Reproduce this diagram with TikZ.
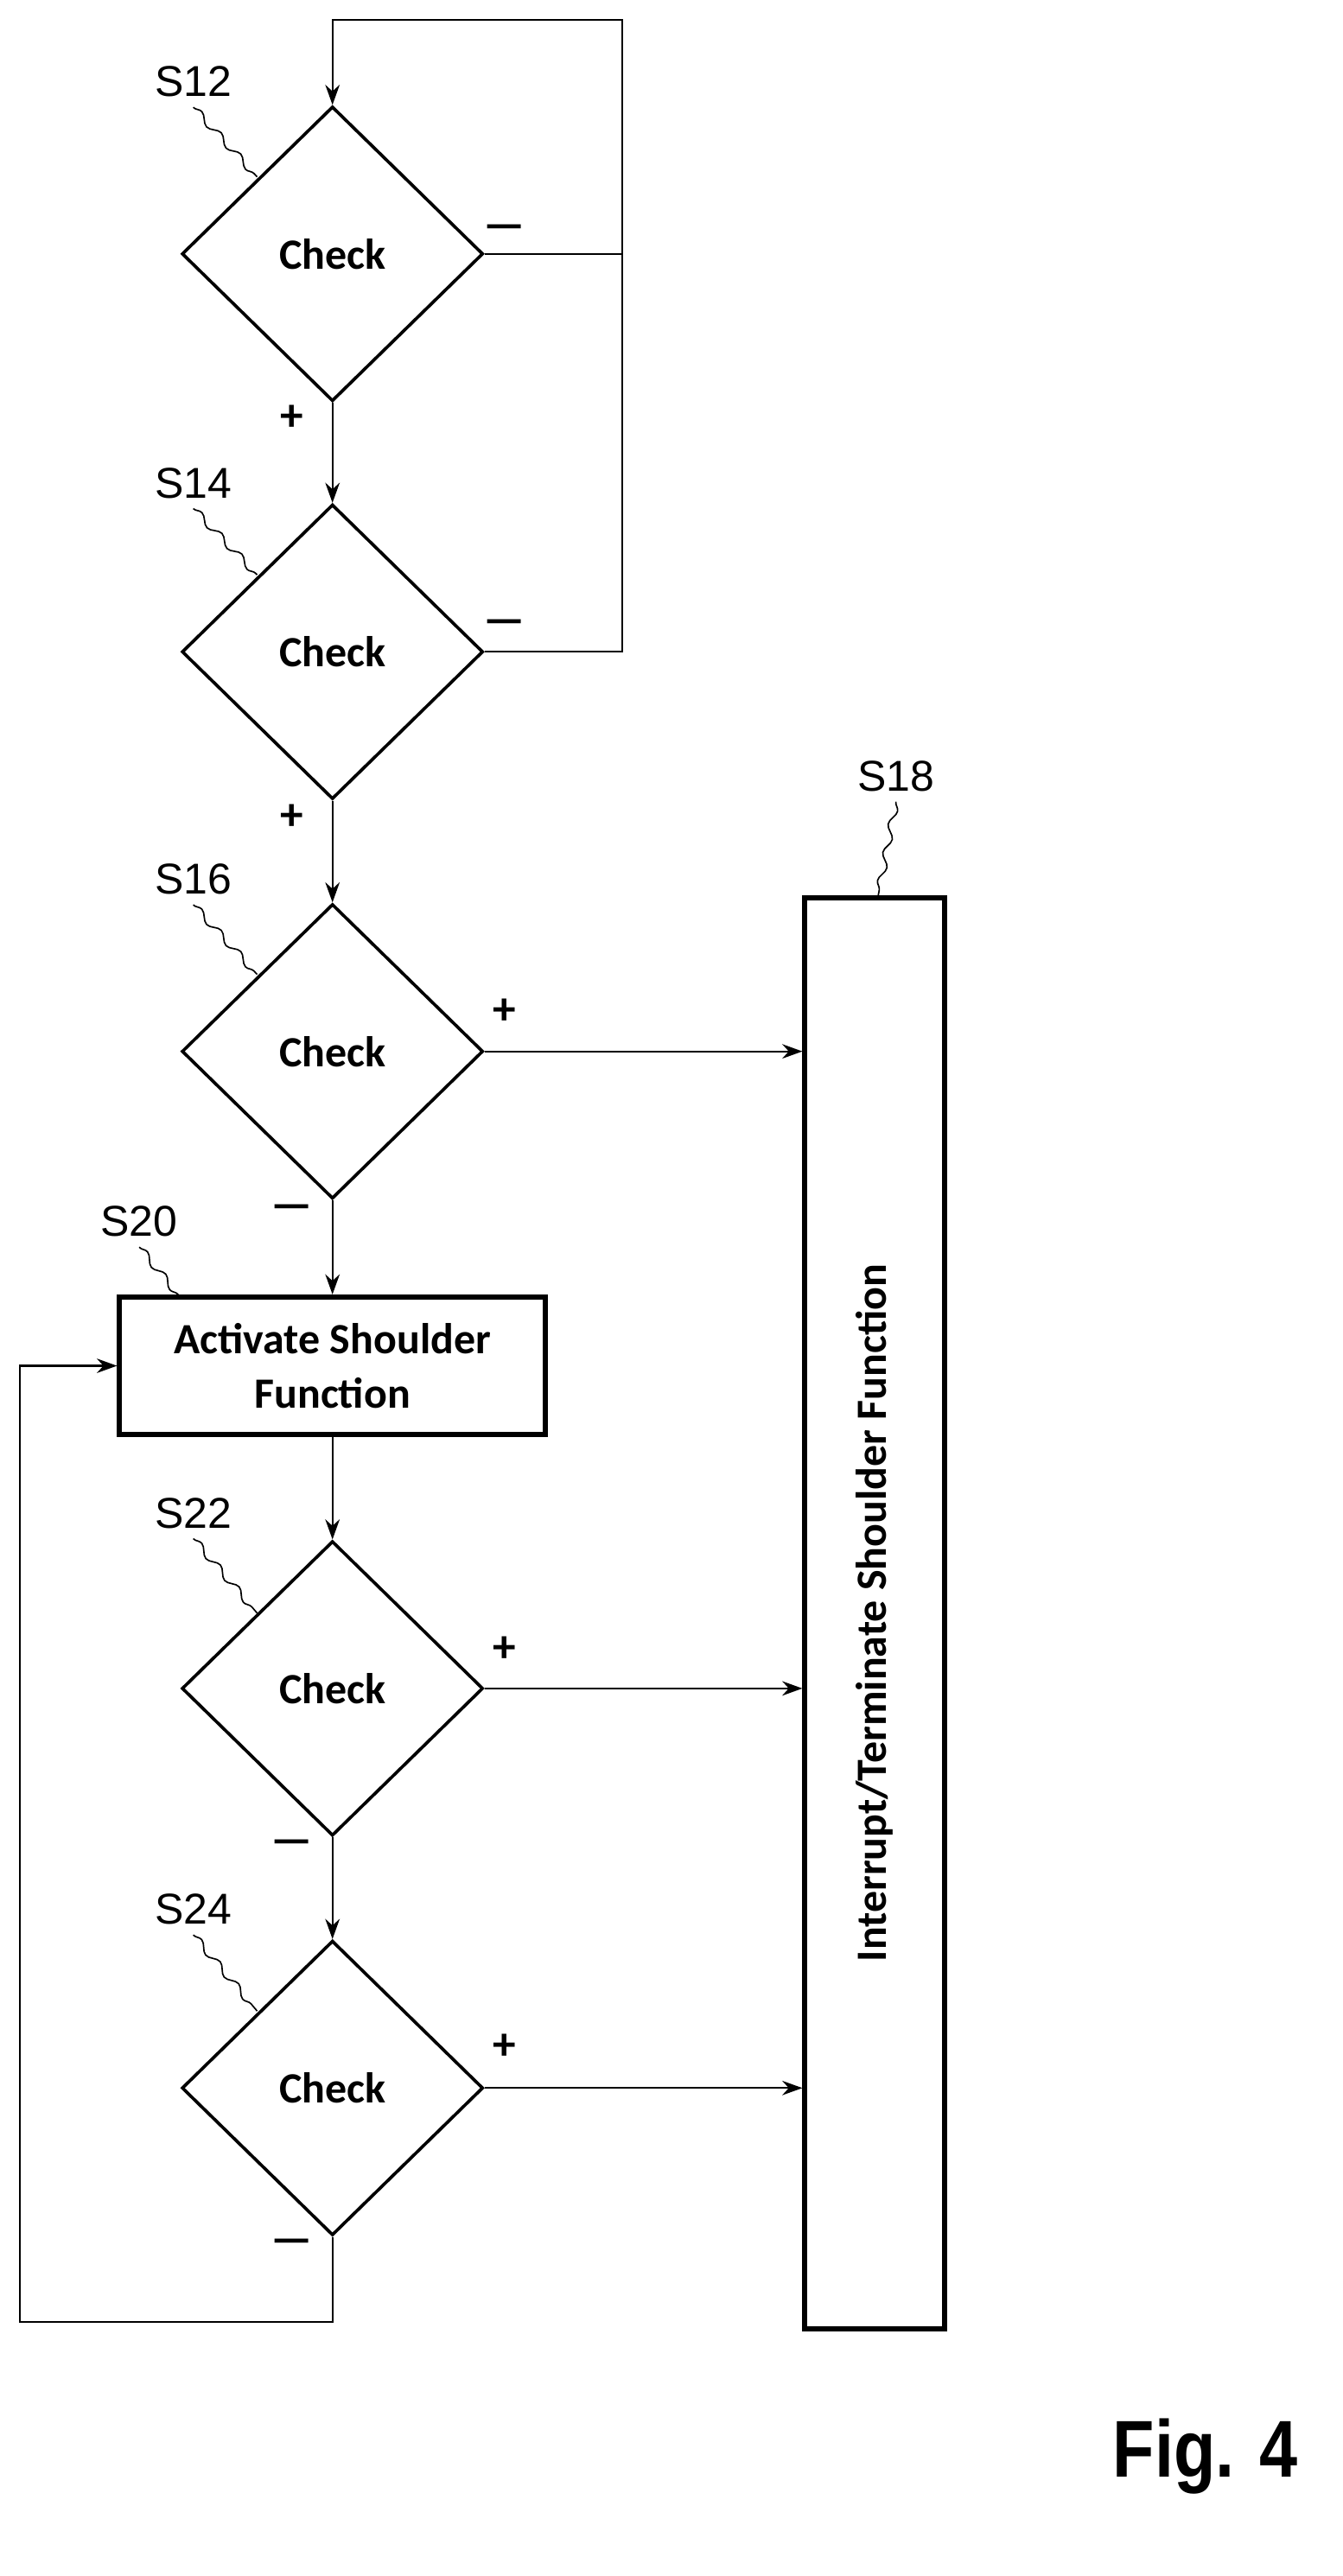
\documentclass[tikz,border=0pt]{standalone}
\usepackage{fontspec}
\setmainfont{Carlito}
\newfontfamily\labfont{Liberation Sans}
\usetikzlibrary{shapes.geometric,decorations.pathmorphing,arrows.meta}

\begin{document}
\begin{tikzpicture}[x=0.02cm,y=-0.02cm,
  check/.style={diamond,draw,line width=1.1pt,minimum width=3.68cm,minimum height=3.6cm,
    inner sep=0pt,font=\fontsize{15}{17}\selectfont\bfseries},
  box/.style={draw,line width=1.8pt,font=\fontsize{15}{19}\selectfont\bfseries,align=center},
  flow/.style={line width=0.7pt,-{Stealth[length=7pt,width=5pt]}},
  line/.style={line width=0.7pt},
  tag/.style={font=\labfont\fontsize{15}{17}\selectfont},
  lead/.style={line width=0.5pt,decorate,decoration={snake,amplitude=1.2pt,segment length=10pt}},
  sign/.style={font=\fontsize{16}{17}\selectfont\bfseries}]
\useasboundingbox (0,0) rectangle (820,1573);

%% steps
\node[check] (s12) at (203,155) {Check};
\node[check] (s14) at (203,398) {Check};
\node[check] (s16) at (203,642) {Check};
\node[box,minimum width=5.2cm,minimum height=1.68cm] (s20) at (203,834) {Activate Shoulder\\Function};
\node[check] (s22) at (203,1031) {Check};
\node[check] (s24) at (203,1275) {Check};
\node[box,minimum width=1.7cm,minimum height=17.48cm] (s18) at (534,985) {};
\node[rotate=90,font=\fontsize{15}{17}\selectfont\bfseries] at (s18) {Interrupt/Terminate Shoulder Function};

%% reference labels
\node[tag] (t12) at (118,50) {S12};
\node[tag] (t14) at (118,295) {S14};
\node[tag] (t16) at (118,537) {S16};
\node[tag] (t20) at (85,746) {S20};
\node[tag] (t22) at (118,924) {S22};
\node[tag] (t24) at (118,1166) {S24};
\node[tag] (t18) at (547,474) {S18};
\coordinate (e12) at (157,108);
\coordinate (e14) at (157,351);
\coordinate (e16) at (157,595);
\coordinate (e20) at (110,792);
\coordinate (e22) at (157,985);
\coordinate (e24) at (157,1228);
\coordinate (e18) at (536,548);
\draw[lead] (t12.south) -- (e12);
\draw[lead] (t14.south) -- (e14);
\draw[lead] (t16.south) -- (e16);
\draw[lead] (t20.south) -- (e20);
\draw[lead] (t22.south) -- (e22);
\draw[lead] (t24.south) -- (e24);
\draw[lead] (t18.south) -- (e18);

%% connectors
\coordinate (top) at (380,12);
\draw[line] (s14.east) -- (380,398) -- (top) -- (203,12) -- (203,40);
\draw[flow] (203,40) -- (s12.north);
\draw[line] (s12.east) -- (380,155);
\draw[flow] (s12.south) -- (s14.north);
\draw[flow] (s14.south) -- (s16.north);
\draw[flow] (s16.south) -- (s20.north);
\draw[flow] (s20.south) -- (s22.north);
\draw[flow] (s22.south) -- (s24.north);
\draw[flow] (s16.east) -- (s18.west |- s16.east);
\draw[flow] (s22.east) -- (s18.west |- s22.east);
\draw[flow] (s24.east) -- (s18.west |- s24.east);
\draw[flow] (s24.south) -- (203,1418) -- (12,1418) |- (s20.west);

%% signs
\node[sign] at (308,142) {---};
\node[sign] at (178,255) {+};
\node[sign] at (308,383) {---};
\node[sign] at (178,499) {+};
\node[sign] at (308,618) {+};
\node[sign] at (178,740) {---};
\node[sign] at (308,1007) {+};
\node[sign] at (178,1128) {---};
\node[sign] at (308,1250) {+};
\node[sign] at (178,1372) {---};

\node[font=\labfont\bfseries\fontsize{28}{30}\selectfont,xscale=0.85] at (736,1500) {Fig. 4};
\end{tikzpicture}
\end{document}
